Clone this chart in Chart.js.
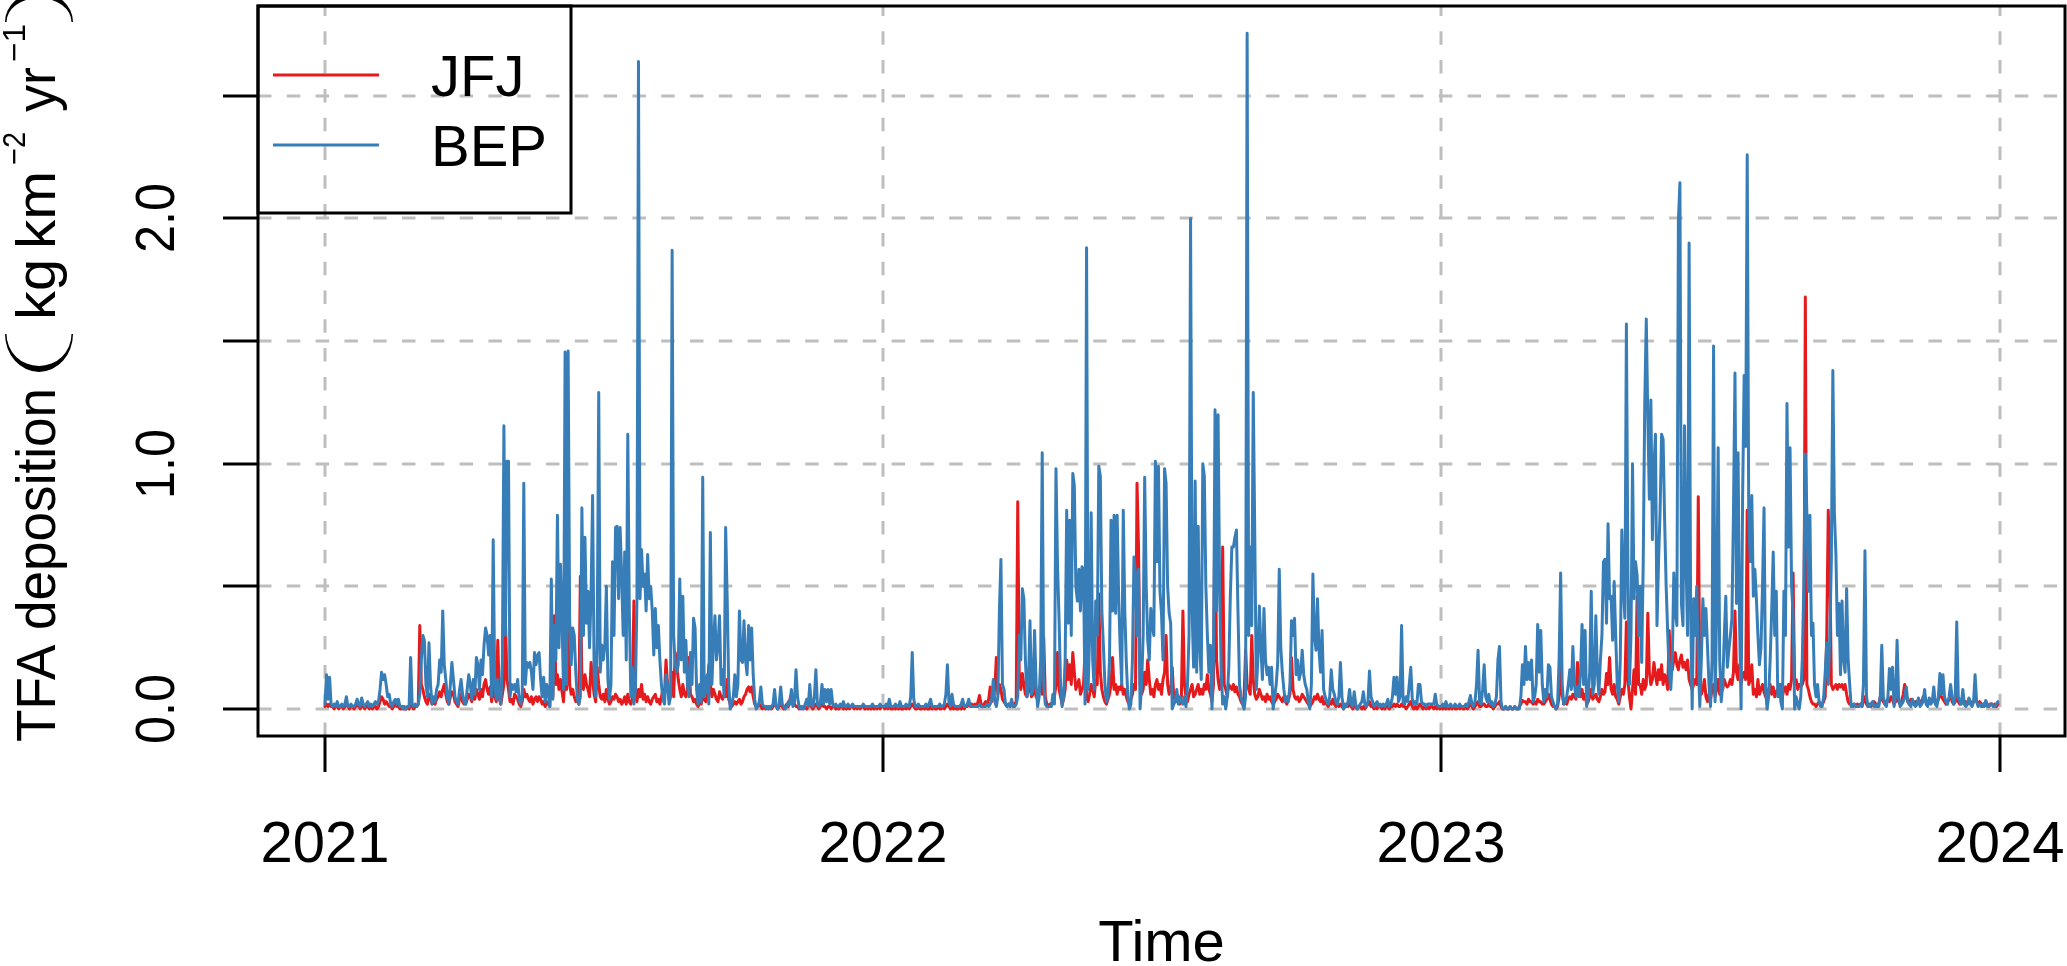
<!DOCTYPE html>
<html>
<head>
<meta charset="utf-8">
<title>TFA deposition</title>
<script src="https://cdn.jsdelivr.net/npm/chart.js@4"></script>
<style>
  html, body { margin: 0; padding: 0; background: #fff; }
  canvas { display: block; }
</style>
</head>
<body>
<canvas id="chart" width="2067" height="966"></canvas>
<script>
// daily TFA deposition, kg km-2 yr-1
const bep2021 = [
  0.02,0.14,0.04,0.13,0.02,0.01,0.02,0.01,0.03,0.01,
  0.01,0.02,0.01,0.02,0.05,0.01,0.01,0.02,0.01,0.01,
  0.02,0.04,0.02,0.01,0.045,0.02,0.01,0.02,0.03,0.01,
  0.02,0.01,0.02,0.03,0.02,0.03,0.08,0.15,0.12,0.14,
  0.10,0.05,0.06,0.02,0.01,0.03,0.04,0.02,0.04,0.01,
  0.01,0.00,0.01,0.00,0.01,0.01,0.21,0.02,0.01,0.02,
  0.01,0.02,0.06,0.20,0.30,0.28,0.10,0.05,0.27,0.10,
  0.02,0.05,0.03,0.08,0.10,0.20,0.15,0.40,0.18,0.12,
  0.05,0.02,0.10,0.19,0.12,0.05,0.03,0.02,0.08,0.12,
  0.06,0.03,0.02,0.08,0.14,0.10,0.04,0.12,0.06,0.21,
  0.18,0.08,0.20,0.14,0.26,0.33,0.30,0.22,0.30,0.05,
  0.69,0.10,0.04,0.12,0.05,0.02,0.20,1.155,0.30,1.01,
  1.01,0.05,0.10,0.08,0.10,0.07,0.12,0.04,0.02,0.06,
  0.92,0.10,0.19,0.17,0.19,0.15,0.08,0.23,0.18,0.22,
  0.23,0.12,0.05,0.13,0.03,0.10,0.06,0.01,0.53,0.04,
  0.34,0.20,0.79,0.25,0.59,0.36,0.08,1.455,0.10,1.46,
  0.36,0.18,0.33,0.30,0.15,0.04,0.02,0.05,0.82,0.30,
  0.70,0.35,0.48,0.25,0.47,0.87,0.15,0.05,0.26,1.29,
  0.15,0.26,0.20,0.26,0.50,0.12,0.04,0.10,0.60,0.30,
  0.74,0.745,0.45,0.74,0.54,0.30,0.64,0.20,1.12,0.40,
  0.05,0.17,0.02,0.08,0.45,2.64,0.45,0.65,0.50,0.55,
  0.40,0.63,0.45,0.50,0.40,0.22,0.41,0.25,0.34,0.20,
  0.10,0.04,0.02,0.14,0.10,0.02,0.05,1.87,0.30,0.18,
  0.15,0.18,0.53,0.20,0.46,0.15,0.28,0.10,0.05,0.23,
  0.10,0.37,0.33,0.08,0.02,0.10,0.03,0.945,0.05,0.08,
  0.14,0.02,0.72,0.10,0.27,0.38,0.20,0.26,0.38,0.10,
  0.16,0.05,0.74,0.45,0.10,0.00,0.02,0.05,0.14,0.05,
  0.10,0.40,0.20,0.19,0.36,0.20,0.14,0.34,0.20,0.33,
  0.14,0.04,0.00,0.01,0.03,0.09,0.02,0.01,0.01,0.00,
  0.01,0.00,0.01,0.02,0.08,0.01,0.00,0.02,0.09,0.02,
  0.01,0.00,0.01,0.03,0.02,0.08,0.01,0.03,0.16,0.05,
  0.01,0.00,0.01,0.00,0.02,0.04,0.01,0.10,0.02,0.01,
  0.05,0.16,0.02,0.01,0.03,0.10,0.02,0.08,0.03,0.08,
  0.02,0.08,0.02,0.01,0.02,0.01,0.01,0.02,0.01,0.03,
  0.01,0.01,0.02,0.01,0.01,0.02,0.01,0.01,0.01,0.01,
  0.01,0.01,0.02,0.01,0.01,0.01,0.01,0.01,0.02,0.01,
  0.01,0.01,0.01,0.02,0.01
];
const bep2022 = [
  0.01,0.01,0.02,0.01,0.04,0.01,0.01,0.01,0.02,0.01,
  0.01,0.03,0.01,0.01,0.01,0.02,0.01,0.01,0.05,0.23,
  0.04,0.01,0.01,0.02,0.01,0.01,0.01,0.01,0.02,0.01,
  0.02,0.04,0.01,0.01,0.01,0.01,0.01,0.02,0.01,0.01,
  0.02,0.06,0.18,0.03,0.01,0.06,0.02,0.01,0.01,0.01,
  0.01,0.02,0.04,0.01,0.01,0.02,0.04,0.01,0.01,0.01,
  0.01,0.01,0.01,0.02,0.01,0.01,0.01,0.01,0.02,0.01,
  0.02,0.04,0.12,0.03,0.01,0.05,0.40,0.61,0.10,0.08,
  0.02,0.01,0.02,0.01,0.04,0.01,0.01,0.02,0.05,0.30,
  0.20,0.49,0.45,0.20,0.05,0.10,0.36,0.06,0.08,0.32,
  0.10,0.01,0.05,0.20,1.045,0.10,0.02,0.01,0.01,0.01,
  0.01,0.06,0.02,0.98,0.59,0.37,0.10,0.01,0.05,0.20,
  0.81,0.35,0.77,0.30,0.96,0.91,0.50,0.44,0.57,0.40,
  0.58,0.57,0.02,1.88,0.08,0.30,0.80,0.20,0.08,0.44,
  0.30,0.99,0.95,0.40,0.26,0.10,0.03,0.05,0.20,0.77,
  0.40,0.79,0.39,0.79,0.45,0.25,0.10,0.81,0.40,0.19,
  0.05,0.00,0.02,0.20,0.62,0.55,0.30,0.57,0.00,0.10,
  0.30,0.945,0.50,0.28,0.20,0.41,0.34,0.30,1.01,0.60,
  0.99,0.48,0.39,0.20,0.98,0.92,0.50,0.39,0.35,0.00,
  0.02,0.03,0.08,0.02,0.05,0.03,0.02,0.05,0.01,0.10,
  0.30,2.00,0.40,0.17,0.93,0.15,0.745,0.25,0.12,1.00,
  0.95,0.50,0.30,0.15,0.26,0.00,0.20,1.22,0.40,1.20,
  0.50,0.17,0.02,0.05,0.00,0.05,0.17,0.46,0.66,0.66,
  0.70,0.73,0.40,0.10,0.05,0.02,0.00,0.05,2.755,0.30,
  0.66,0.34,1.29,0.70,0.08,0.20,0.42,0.25,0.12,0.41,
  0.20,0.14,0.17,0.10,0.17,0.00,0.05,0.10,0.19,0.57,
  0.25,0.15,0.08,0.03,0.05,0.03,0.10,0.36,0.30,0.37,
  0.14,0.20,0.12,0.15,0.24,0.14,0.10,0.08,0.03,0.00,
  0.10,0.55,0.30,0.24,0.45,0.24,0.15,0.32,0.08,0.05,
  0.03,0.02,0.05,0.16,0.08,0.06,0.03,0.02,0.05,0.19,
  0.05,0.00,0.02,0.01,0.03,0.08,0.02,0.01,0.07,0.02,
  0.00,0.01,0.02,0.03,0.07,0.02,0.01,0.03,0.155,0.05,
  0.03,0.01,0.02,0.03,0.01,0.02,0.01,0.02,0.01,0.02,
  0.04,0.01,0.02,0.05,0.13,0.06,0.13,0.03,0.05,0.34,
  0.03,0.02,0.05,0.03,0.10,0.17,0.04,0.02,0.03,0.02,
  0.10,0.10,0.03,0.02,0.02,0.01,0.02,0.02,0.02,0.02,
  0.02,0.06,0.02,0.01,0.01
];
const bep2023 = [
  0.01,0.02,0.01,0.03,0.01,0.01,0.02,0.01,0.01,0.02,
  0.01,0.01,0.02,0.01,0.01,0.01,0.02,0.01,0.03,0.055,
  0.02,0.01,0.03,0.10,0.24,0.03,0.02,0.08,0.18,0.05,
  0.03,0.06,0.02,0.03,0.01,0.02,0.05,0.20,0.255,0.03,
  0.00,0.00,0.01,0.00,0.00,0.01,0.00,0.00,0.01,0.00,
  0.00,0.00,0.05,0.18,0.10,0.255,0.12,0.19,0.12,0.20,
  0.03,0.05,0.10,0.345,0.15,0.32,0.10,0.03,0.08,0.05,
  0.18,0.17,0.05,0.03,0.01,0.00,0.02,0.20,0.555,0.10,
  0.02,0.03,0.05,0.10,0.16,0.08,0.255,0.10,0.05,0.09,
  0.05,0.15,0.345,0.10,0.32,0.01,0.05,0.15,0.48,0.06,
  0.10,0.38,0.15,0.06,0.20,0.30,0.60,0.61,0.35,0.755,
  0.45,0.46,0.28,0.52,0.30,0.10,0.03,0.20,0.73,0.50,
  0.37,1.57,0.54,0.10,0.30,1.00,0.45,0.60,0.545,0.30,
  0.50,0.19,0.60,1.245,1.59,1.19,0.855,1.26,0.69,0.99,
  1.12,0.34,0.60,0.80,1.12,1.10,0.77,0.50,0.31,0.15,
  0.08,0.20,0.555,0.40,0.34,1.99,2.145,0.43,0.34,1.155,
  0.60,0.30,1.90,0.41,0.00,0.45,0.30,0.50,0.20,0.01,
  0.20,0.45,0.30,0.41,0.26,0.10,0.01,0.20,1.48,0.03,
  0.40,1.065,0.20,0.03,0.10,0.30,0.46,0.17,0.24,0.30,
  0.37,0.80,1.37,0.43,1.045,0.35,0.00,0.87,1.36,1.07,
  2.26,0.79,0.60,0.87,0.46,0.57,0.45,0.30,0.18,0.25,
  0.50,0.82,0.08,0.00,0.05,0.20,0.40,0.64,0.30,0.48,
  0.05,0.10,0.03,0.00,0.48,0.30,1.245,0.66,1.065,0.50,
  0.39,0.00,0.05,0.02,0.00,0.05,0.20,0.50,1.04,0.80,
  0.48,0.79,0.30,0.35,0.10,0.05,0.10,0.03,0.01,0.01,
  0.05,0.15,0.27,0.10,0.30,0.60,1.38,0.80,0.63,0.30,
  0.43,0.14,0.44,0.20,0.15,0.49,0.20,0.10,0.01,0.01,
  0.02,0.01,0.01,0.01,0.02,0.01,0.10,0.645,0.05,0.01,
  0.01,0.02,0.03,0.01,0.01,0.02,0.01,0.05,0.26,0.05,
  0.02,0.01,0.05,0.165,0.08,0.17,0.01,0.05,0.28,0.05,
  0.01,0.02,0.03,0.05,0.09,0.03,0.02,0.01,0.04,0.02,
  0.01,0.02,0.045,0.01,0.02,0.03,0.08,0.02,0.01,0.045,
  0.02,0.03,0.09,0.02,0.01,0.05,0.145,0.06,0.14,0.05,
  0.03,0.02,0.05,0.10,0.045,0.02,0.05,0.355,0.05,0.03,
  0.02,0.08,0.02,0.01,0.02,0.045,0.02,0.01,0.03,0.14,
  0.03,0.01,0.02,0.01,0.02,0.01,0.035,0.01,0.01,0.02,
  0.02,0.01,0.01,0.02,0.03
];
const jfj2021 = [
  0.01,0.02,0.01,0.02,0.01,0.01,0.00,0.01,0.01,0.00,
  0.01,0.01,0.00,0.01,0.02,0.01,0.00,0.01,0.01,0.00,
  0.01,0.02,0.01,0.00,0.01,0.01,0.00,0.01,0.01,0.00,
  0.01,0.00,0.01,0.01,0.00,0.01,0.03,0.05,0.04,0.02,
  0.03,0.02,0.01,0.01,0.00,0.01,0.02,0.01,0.01,0.00,
  0.00,0.01,0.00,0.00,0.01,0.00,0.03,0.01,0.00,0.01,
  0.01,0.02,0.34,0.10,0.08,0.05,0.03,0.02,0.06,0.04,
  0.02,0.03,0.02,0.04,0.05,0.07,0.05,0.08,0.10,0.06,
  0.03,0.02,0.05,0.07,0.06,0.03,0.02,0.01,0.04,0.06,
  0.03,0.02,0.02,0.04,0.06,0.05,0.03,0.07,0.04,0.08,
  0.06,0.04,0.08,0.05,0.10,0.12,0.08,0.06,0.09,0.03,
  0.12,0.05,0.03,0.28,0.04,0.02,0.06,0.10,0.37,0.12,
  0.08,0.03,0.04,0.02,0.06,0.05,0.04,0.02,0.01,0.03,
  0.08,0.05,0.06,0.04,0.03,0.05,0.02,0.04,0.05,0.03,
  0.05,0.04,0.02,0.03,0.01,0.03,0.02,0.01,0.15,0.05,
  0.38,0.10,0.14,0.08,0.12,0.07,0.03,0.15,0.08,0.55,
  0.10,0.06,0.08,0.05,0.03,0.04,0.02,0.54,0.12,0.08,
  0.14,0.10,0.08,0.05,0.19,0.12,0.06,0.03,0.17,0.10,
  0.05,0.04,0.06,0.03,0.08,0.04,0.02,0.03,0.05,0.04,
  0.06,0.05,0.03,0.04,0.02,0.03,0.05,0.02,0.06,0.03,
  0.02,0.04,0.44,0.06,0.03,0.08,0.05,0.10,0.04,0.06,
  0.03,0.05,0.03,0.02,0.04,0.05,0.06,0.03,0.04,0.02,
  0.05,0.08,0.06,0.20,0.10,0.04,0.06,0.15,0.05,0.23,
  0.18,0.12,0.08,0.05,0.10,0.06,0.05,0.08,0.21,0.06,
  0.05,0.03,0.04,0.02,0.01,0.03,0.02,0.05,0.04,0.03,
  0.06,0.18,0.10,0.05,0.08,0.06,0.04,0.03,0.07,0.05,
  0.04,0.06,0.05,0.12,0.04,0.02,0.01,0.02,0.03,0.02,
  0.03,0.04,0.02,0.03,0.05,0.06,0.08,0.09,0.07,0.09,
  0.05,0.02,0.01,0.01,0.02,0.01,0.00,0.01,0.00,0.01,
  0.00,0.01,0.00,0.01,0.02,0.01,0.00,0.01,0.02,0.01,
  0.00,0.01,0.02,0.01,0.04,0.06,0.04,0.02,0.01,0.01,
  0.00,0.01,0.00,0.01,0.01,0.00,0.01,0.02,0.01,0.00,
  0.01,0.02,0.01,0.00,0.01,0.02,0.01,0.01,0.00,0.01,
  0.01,0.00,0.01,0.01,0.00,0.01,0.00,0.01,0.01,0.00,
  0.01,0.00,0.01,0.00,0.01,0.01,0.00,0.01,0.00,0.01,
  0.00,0.01,0.01,0.00,0.01,0.00,0.01,0.00,0.01,0.00,
  0.01,0.00,0.01,0.00,0.01
];
const jfj2022 = [
  0.01,0.00,0.01,0.00,0.01,0.00,0.00,0.01,0.00,0.01,
  0.00,0.01,0.00,0.00,0.01,0.00,0.01,0.00,0.01,0.02,
  0.01,0.00,0.00,0.01,0.00,0.00,0.01,0.00,0.01,0.00,
  0.00,0.01,0.00,0.01,0.00,0.00,0.01,0.00,0.00,0.01,
  0.00,0.01,0.02,0.01,0.00,0.01,0.00,0.01,0.00,0.00,
  0.01,0.00,0.01,0.00,0.01,0.01,0.02,0.01,0.02,0.01,
  0.02,0.01,0.03,0.055,0.02,0.01,0.02,0.03,0.02,0.04,
  0.09,0.03,0.05,0.08,0.21,0.06,0.10,0.08,0.04,0.03,
  0.02,0.01,0.02,0.01,0.02,0.01,0.02,0.03,0.845,0.12,
  0.08,0.145,0.10,0.06,0.05,0.08,0.10,0.05,0.06,0.09,
  0.05,0.04,0.08,0.10,0.06,0.29,0.05,0.02,0.01,0.02,
  0.02,0.03,0.05,0.10,0.23,0.08,0.05,0.02,0.04,0.08,
  0.20,0.12,0.18,0.10,0.23,0.15,0.08,0.10,0.12,0.06,
  0.08,0.10,0.24,0.05,0.03,0.06,0.10,0.08,0.05,0.12,
  0.10,0.47,0.15,0.08,0.05,0.03,0.02,0.04,0.06,0.10,
  0.21,0.08,0.10,0.06,0.09,0.08,0.10,0.06,0.08,0.05,
  0.03,0.02,0.04,0.06,0.10,0.08,0.92,0.65,0.10,0.06,
  0.08,0.15,0.10,0.20,0.12,0.06,0.08,0.05,0.10,0.12,
  0.08,0.10,0.06,0.12,0.15,0.30,0.10,0.06,0.08,0.17,
  0.05,0.03,0.06,0.04,0.02,0.05,0.40,0.10,0.05,0.03,
  0.06,0.08,0.10,0.05,0.06,0.08,0.10,0.06,0.08,0.06,
  0.10,0.08,0.14,0.08,0.06,0.03,0.10,0.87,0.20,0.12,
  0.08,0.10,0.66,0.10,0.08,0.05,0.10,0.09,0.08,0.10,
  0.07,0.09,0.06,0.05,0.03,0.02,0.05,0.24,0.10,0.08,
  0.06,0.30,0.12,0.06,0.04,0.05,0.08,0.06,0.04,0.05,
  0.03,0.06,0.04,0.05,0.03,0.02,0.03,0.04,0.06,0.05,
  0.04,0.03,0.05,0.03,0.02,0.04,0.06,0.21,0.08,0.05,
  0.04,0.05,0.03,0.04,0.06,0.05,0.04,0.03,0.02,0.01,
  0.02,0.03,0.05,0.04,0.06,0.04,0.03,0.05,0.02,0.03,
  0.02,0.01,0.03,0.02,0.04,0.02,0.01,0.02,0.01,0.02,
  0.01,0.00,0.01,0.02,0.01,0.02,0.01,0.00,0.01,0.01,
  0.00,0.01,0.01,0.00,0.01,0.00,0.01,0.02,0.03,0.01,
  0.01,0.00,0.01,0.00,0.01,0.01,0.00,0.01,0.00,0.01,
  0.01,0.00,0.01,0.01,0.02,0.01,0.02,0.01,0.01,0.02,
  0.01,0.01,0.00,0.01,0.02,0.03,0.01,0.00,0.01,0.00,
  0.01,0.02,0.01,0.00,0.01,0.00,0.01,0.00,0.01,0.01,
  0.00,0.01,0.00,0.01,0.00
];
const jfj2023 = [
  0.01,0.00,0.01,0.00,0.01,0.00,0.01,0.00,0.01,0.00,
  0.00,0.01,0.00,0.01,0.00,0.00,0.01,0.00,0.01,0.02,
  0.01,0.00,0.01,0.02,0.03,0.01,0.01,0.02,0.02,0.01,
  0.01,0.02,0.01,0.01,0.00,0.01,0.02,0.02,0.03,0.01,
  0.00,0.00,0.01,0.00,0.00,0.01,0.00,0.00,0.01,0.00,
  0.00,0.01,0.02,0.035,0.03,0.03,0.02,0.04,0.03,0.03,
  0.02,0.03,0.02,0.04,0.03,0.03,0.02,0.02,0.03,0.04,
  0.06,0.04,0.02,0.01,0.01,0.00,0.01,0.05,0.18,0.06,
  0.02,0.03,0.02,0.04,0.05,0.04,0.06,0.05,0.04,0.19,
  0.06,0.05,0.08,0.04,0.06,0.02,0.03,0.05,0.08,0.04,
  0.05,0.06,0.04,0.03,0.05,0.08,0.06,0.07,0.145,0.10,
  0.21,0.08,0.06,0.10,0.05,0.04,0.02,0.05,0.08,0.06,
  0.10,0.355,0.12,0.05,0.00,0.08,0.16,0.06,0.46,0.10,
  0.10,0.06,0.12,0.08,0.10,0.39,0.15,0.10,0.12,0.19,
  0.14,0.10,0.16,0.12,0.18,0.10,0.14,0.12,0.08,0.32,
  0.18,0.16,0.20,0.23,0.18,0.16,0.20,0.22,0.17,0.19,
  0.16,0.20,0.12,0.10,0.08,0.10,0.12,0.10,0.865,0.10,
  0.06,0.08,0.12,0.05,0.03,0.06,0.04,0.08,0.10,0.05,
  0.08,0.12,0.06,0.10,0.08,0.12,0.10,0.09,0.10,0.12,
  0.10,0.15,0.40,0.15,0.12,0.18,0.10,0.14,0.15,0.12,
  0.81,0.10,0.12,0.18,0.06,0.08,0.05,0.12,0.06,0.08,
  0.10,0.07,0.05,0.06,0.08,0.10,0.06,0.09,0.05,0.07,
  0.08,0.06,0.10,0.05,0.08,0.09,0.06,0.10,0.08,0.12,
  0.555,0.10,0.12,0.08,0.10,0.09,0.10,0.12,1.68,0.10,
  0.08,0.05,0.03,0.02,0.02,0.01,0.02,0.03,0.02,0.02,
  0.03,0.05,0.30,0.81,0.61,0.10,0.08,0.09,0.10,0.08,
  0.10,0.09,0.10,0.08,0.10,0.06,0.03,0.02,0.02,0.01,
  0.02,0.01,0.02,0.01,0.02,0.01,0.03,0.05,0.02,0.01,
  0.02,0.01,0.02,0.03,0.02,0.01,0.02,0.05,0.04,0.03,
  0.02,0.03,0.04,0.03,0.05,0.04,0.02,0.03,0.05,0.03,
  0.02,0.03,0.06,0.10,0.05,0.03,0.02,0.04,0.03,0.02,
  0.03,0.02,0.04,0.03,0.02,0.05,0.04,0.03,0.02,0.03,
  0.04,0.03,0.05,0.03,0.02,0.04,0.06,0.05,0.04,0.03,
  0.02,0.03,0.04,0.05,0.03,0.02,0.03,0.05,0.03,0.02,
  0.03,0.04,0.02,0.03,0.02,0.04,0.03,0.02,0.03,0.05,
  0.03,0.02,0.03,0.02,0.01,0.02,0.03,0.02,0.01,0.02,
  0.02,0.01,0.02,0.01,0.02
];

// axis ticks (x in days since 2021-01-01)
const yearTicks = [0, 365, 730, 1095];
const yearLabels = ['2021', '2022', '2023', '2024'];
const yTicks = [0, 0.5, 1.0, 1.5, 2.0, 2.5];
const yLabels = ['0.0', '', '1.0', '', '2.0', ''];
const seriesNames = ['JFJ', 'BEP'];
const seriesColors = ['#E41A1C', '#377EB8'];

const jfj = jfj2021.concat(jfj2022, jfj2023);
const bep = bep2021.concat(bep2022, bep2023);
const toPoints = arr => arr.map((v, i) => ({x: i, y: v}));

const FONT = '"Liberation Sans", Arial, Helvetica, sans-serif';
const FS = 58;

// text drawn upwards, squeezed to a given length (start = lower end, screen y)
function upText(ctx, txt, size, baseX, start, len) {
  ctx.save();
  ctx.font = size + 'px ' + FONT;
  const w = ctx.measureText(txt).width;
  ctx.translate(baseX, start);
  ctx.rotate(-Math.PI / 2);
  ctx.scale(len / w, 1);
  ctx.textAlign = 'left';
  ctx.textBaseline = 'alphabetic';
  ctx.fillText(txt, 0, 0);
  ctx.restore();
}

// big bracket lying on its side: crescent between two half-ellipses
function bracket(ctx, x0, x1, yEnd, depth) {
  const cx = (x0 + x1) / 2, rx = (x1 - x0) / 2;
  const down = depth > 0;
  const d = Math.abs(depth);
  ctx.beginPath();
  if (down) {
    ctx.ellipse(cx, yEnd, rx, d, 0, 0, Math.PI, false);
    ctx.ellipse(cx, yEnd, rx - 1.5, d - 6, 0, Math.PI, 0, true);
  } else {
    ctx.ellipse(cx, yEnd, rx, d, 0, Math.PI, 2 * Math.PI, false);
    ctx.ellipse(cx, yEnd, rx - 1.5, d - 6, 0, 2 * Math.PI, Math.PI, true);
  }
  ctx.closePath();
  ctx.fill();
}

// R-style frame, grid, ticks, legend and titles
const rDecor = {
  id: 'rDecor',
  beforeDatasetsDraw(chart) {
    const {ctx, chartArea: a, scales: {x, y}} = chart;
    ctx.save();
    ctx.strokeStyle = '#BEBEBE';
    ctx.lineWidth = 3;
    ctx.setLineDash([13.5, 15.3]);
    yearTicks.forEach(t => {
      const px = Math.round(x.getPixelForValue(t));
      ctx.beginPath(); ctx.moveTo(px, a.bottom); ctx.lineTo(px, a.top); ctx.stroke();
    });
    yTicks.forEach(t => {
      const py = Math.round(y.getPixelForValue(t));
      ctx.beginPath(); ctx.moveTo(a.left, py); ctx.lineTo(a.right, py); ctx.stroke();
    });
    ctx.restore();
  },
  afterDatasetsDraw(chart) {
    const {ctx, chartArea: a, scales: {x, y}} = chart;
    ctx.save();
    ctx.strokeStyle = '#000';
    ctx.fillStyle = '#000';
    ctx.lineWidth = 3;
    ctx.setLineDash([]);
    ctx.strokeRect(a.left, a.top, a.right - a.left, a.bottom - a.top);

    // x axis
    ctx.font = FS + 'px ' + FONT;
    ctx.textAlign = 'center';
    ctx.textBaseline = 'alphabetic';
    yearTicks.forEach((t, i) => {
      const px = Math.round(x.getPixelForValue(t));
      ctx.beginPath(); ctx.moveTo(px, a.bottom); ctx.lineTo(px, a.bottom + 36); ctx.stroke();
      ctx.fillText(yearLabels[i], px, 862);
    });
    ctx.fillText('Time', (a.left + a.right) / 2, 961);

    // y axis
    yTicks.forEach((t, i) => {
      const py = Math.round(y.getPixelForValue(t));
      ctx.beginPath(); ctx.moveTo(a.left, py); ctx.lineTo(a.left - 35, py); ctx.stroke();
      if (yLabels[i]) upText(ctx, yLabels[i], 56, 174, py + 35, 70);
    });

    // y title
    upText(ctx, 'TFA deposition', 56, 55, 742, 354);
    bracket(ctx, 5, 73, 334, 38);
    upText(ctx, 'kg', 56, 55, 320, 61);
    upText(ctx, 'km', 56, 55, 249, 78);
    upText(ctx, '\u22122', 32, 25, 165, 33);
    upText(ctx, 'yr', 56, 55, 112, 45);
    upText(ctx, '\u22121', 32, 25, 62, 38);
    bracket(ctx, 5, 73, 22, -30);

    // legend
    ctx.strokeRect(a.left, a.top, 313, 207);
    ctx.font = FS + 'px ' + FONT;
    ctx.textAlign = 'left';
    [75, 145].forEach((ly, i) => {
      ctx.strokeStyle = seriesColors[i];
      ctx.lineWidth = 3;
      ctx.beginPath(); ctx.moveTo(273, ly); ctx.lineTo(379, ly); ctx.stroke();
      ctx.fillText(seriesNames[i], 431, ly + 21);
    });
    ctx.restore();
  }
};

new Chart(document.getElementById('chart'), {
  type: 'line',
  data: {
    datasets: [
      {label: seriesNames[0], data: toPoints(jfj), borderColor: seriesColors[0], order: 2},
      {label: seriesNames[1], data: toPoints(bep), borderColor: seriesColors[1], order: 1}
    ]
  },
  options: {
    responsive: false,
    animation: false,
    devicePixelRatio: 1,
    layout: {padding: {left: 258, top: 6, right: 2, bottom: 230}},
    elements: {
      line: {borderWidth: 3, tension: 0, borderJoinStyle: 'round', borderCapStyle: 'round'},
      point: {radius: 0, hoverRadius: 0}
    },
    scales: {
      x: {type: 'linear', min: -43.8, max: 1137.8, display: false},
      y: {type: 'linear', min: -0.11, max: 2.866, display: false}
    },
    plugins: {legend: {display: false}, tooltip: {enabled: false}}
  },
  plugins: [rDecor]
});
</script>
</body>
</html>
